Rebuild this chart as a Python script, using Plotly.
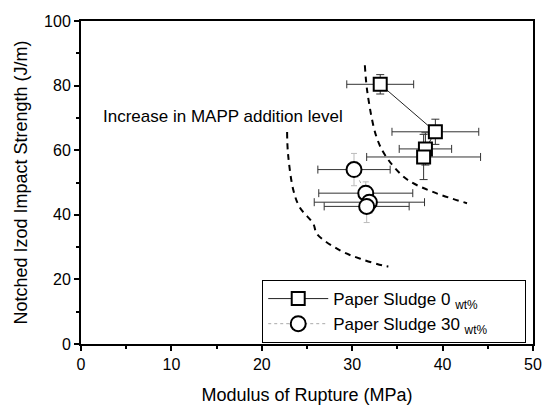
import plotly.graph_objects as go

# Paper sludge 0 wt% series
sq_mor = [33.1, 39.2, 38.1, 37.9]
sq_izod = [80.4, 65.7, 60.4, 57.9]
sq_mor_err = [3.7, 4.8, 2.9, 6.3]
sq_izod_err = [3.0, 3.9, 5.0, 7.0]

# Paper sludge 30 wt% series
ci_mor = [30.2, 31.5, 31.9, 31.6]
ci_izod = [54.0, 46.7, 43.9, 42.6]
ci_mor_err = [4.0, 5.2, 6.1, 4.7]
ci_izod_err = [5.0, 3.5, 3.5, 5.0]

# Guide curves showing the MAPP trend (data coordinates)
guide_inner_x = [22.8, 22.9, 23.5, 24.2, 25.7, 26.1, 28.7, 30.9, 33.4, 34.0]
guide_inner_y = [65.6, 58.9, 47.5, 42.3, 37.2, 34.1, 28.9, 26.4, 24.3, 24.0]
guide_outer_x = [31.4, 31.7, 32.7, 33.8, 36.0, 39.0, 42.7]
guide_outer_y = [86.3, 77.5, 64.0, 57.8, 51.1, 47.0, 43.6]

x_ticks = [0, 10, 20, 30, 40, 50]
y_ticks = [0, 20, 40, 60, 80, 100]

FONT = "Liberation Sans, Arial, sans-serif"
PAD = "\u00a0" * 7

fig = go.Figure()

for gx, gy in [(guide_inner_x, guide_inner_y), (guide_outer_x, guide_outer_y)]:
    fig.add_trace(go.Scatter(
        x=gx, y=gy, mode="lines", showlegend=False, hoverinfo="skip",
        line=dict(color="black", width=2, dash="6px,5px", shape="spline", smoothing=1.0),
    ))

fig.add_trace(go.Scatter(
    x=sq_mor, y=sq_izod, mode="lines+markers",
    name="Paper Sludge 0 <sub>wt%</sub>" + PAD,
    line=dict(color="#222222", width=1),
    marker=dict(symbol="square", size=13, color="white",
                line=dict(color="black", width=2)),
    error_x=dict(type="data", array=sq_mor_err, color="#333333", thickness=1, width=4),
    error_y=dict(type="data", array=sq_izod_err, color="#333333", thickness=1, width=4),
))

fig.add_trace(go.Scatter(
    x=ci_mor, y=ci_izod, mode="lines+markers",
    name="Paper Sludge 30 <sub>wt%</sub>" + PAD,
    line=dict(color="#aaaaaa", width=1, dash="dot"),
    marker=dict(symbol="circle", size=15, color="white",
                line=dict(color="black", width=2)),
    error_x=dict(type="data", array=ci_mor_err, color="#333333", thickness=1, width=4),
    error_y=dict(type="data", array=ci_izod_err, color="#bbbbbb", thickness=1, width=3),
))

fig.add_annotation(
    x=15.7, y=70.5, xref="x", yref="y", showarrow=False,
    text="Increase in MAPP addition level",
    font=dict(family=FONT, size=17, color="black"),
)

fig.update_layout(
    width=543, height=408,
    margin=dict(l=81, r=10, t=21, b=64),
    paper_bgcolor="white", plot_bgcolor="white",
    font=dict(family=FONT, size=16, color="black"),
    showlegend=True,
    legend=dict(
        x=0.985, y=0.003, xanchor="right", yanchor="bottom",
        bordercolor="black", borderwidth=1, bgcolor="white",
        font=dict(family=FONT, size=17, color="black"),
        itemwidth=60, tracegroupgap=0,
    ),
)

fig.update_xaxes(
    range=[0, 50], tickvals=x_ticks, ticktext=[str(v) for v in x_ticks],
    showgrid=False, zeroline=False, showline=True, linecolor="black", linewidth=2,
    mirror=True, ticks="outside", ticklen=5, tickwidth=1.5, tickcolor="black",
    minor=dict(dtick=5, ticks="outside", ticklen=3, tickcolor="black"),
    tickfont=dict(size=16), automargin=False,
    title=dict(text="Modulus of Rupture (MPa)", font=dict(size=18), standoff=16),
)
fig.update_yaxes(
    range=[0, 100], tickvals=y_ticks, ticktext=[str(v) for v in y_ticks],
    showgrid=False, zeroline=False, showline=True, linecolor="black", linewidth=2,
    mirror=True, ticks="outside", ticklen=5, tickwidth=1.5, tickcolor="black",
    minor=dict(dtick=10, ticks="outside", ticklen=3, tickcolor="black"),
    tickfont=dict(size=16), automargin=False,
    title=dict(text="Notched Izod Impact Strength (J/m)", font=dict(size=18), standoff=12),
)

fig.write_html("out.html")
